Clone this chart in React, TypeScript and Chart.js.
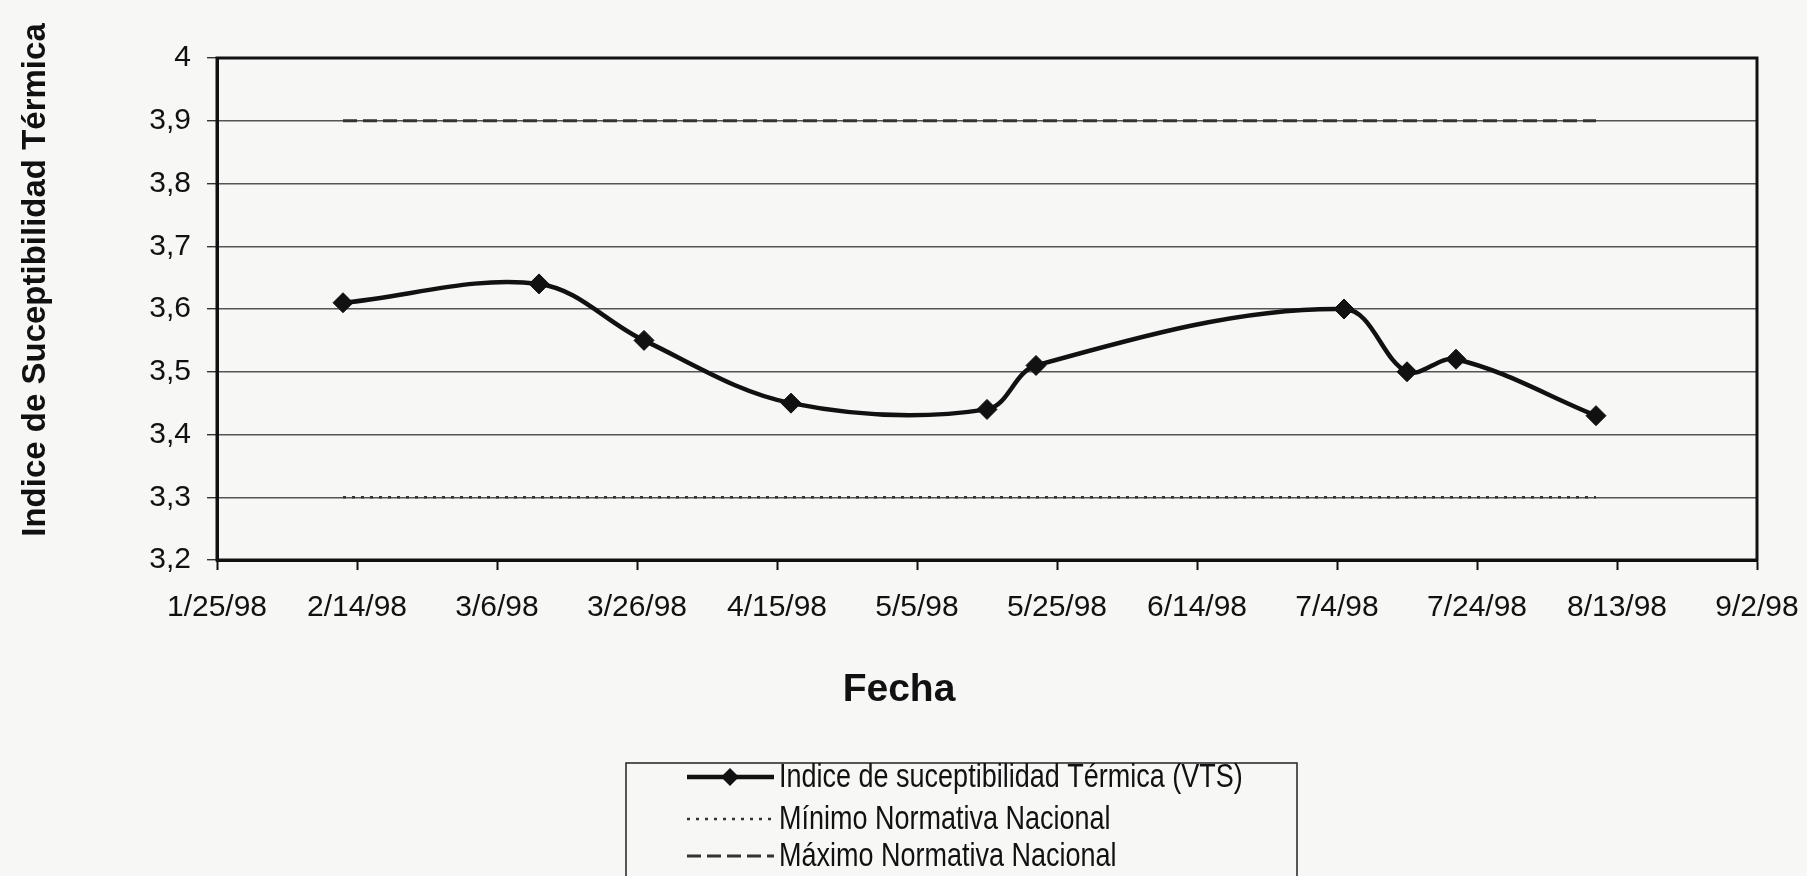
import { useEffect, useRef } from "react";
import { Chart, registerables } from "chart.js";

Chart.register(...registerables);

// ---- data ----
const sampleDates = ["2/12/98", "3/12/98", "3/27/98", "4/17/98", "5/15/98", "5/22/98", "7/5/98", "7/14/98", "7/21/98", "8/10/98"];
const vtsValues = [3.61, 3.64, 3.55, 3.45, 3.44, 3.51, 3.6, 3.5, 3.52, 3.43];
const minimoValues = [3.3, 3.3, 3.3, 3.3, 3.3, 3.3, 3.3, 3.3, 3.3, 3.3];
const maximoValues = [3.9, 3.9, 3.9, 3.9, 3.9, 3.9, 3.9, 3.9, 3.9, 3.9];
const xTickLabels = ["1/25/98", "2/14/98", "3/6/98", "3/26/98", "4/15/98", "5/5/98", "5/25/98", "6/14/98", "7/4/98", "7/24/98", "8/13/98", "9/2/98"];
const yTickLabels = ["3,2", "3,3", "3,4", "3,5", "3,6", "3,7", "3,8", "3,9", "4"];
const seriesLabels = ["Indice de suceptibilidad Térmica (VTS)", "Mínimo Normativa Nacional", "Máximo Normativa Nacional"];
const xAxisTitle = "Fecha";
const yAxisTitle = "Indice de Suceptibilidad Térmica";

const toDay = (s: string) => {
  const [m, d, y] = s.split("/").map(Number);
  return Date.UTC(1900 + y, m - 1, d) / 86400000;
};
const baseDay = toDay(xTickLabels[0]);
const dayOf = (s: string) => toDay(s) - baseDay;
const pts = (vals: number[]) => sampleDates.map((d, i) => ({ x: dayOf(d), y: vals[i] }));

const FONT = "'Liberation Sans', Arial, sans-serif";

const framePlugin = {
  id: "frame",
  beforeDraw(chart: any) {
    const { ctx } = chart;
    ctx.save();
    ctx.fillStyle = "#f7f7f6";
    ctx.fillRect(0, 0, chart.width, chart.height);
    ctx.restore();
  },
  afterDraw(chart: any) {
    const { ctx, chartArea: a } = chart;
    ctx.save();
    ctx.strokeStyle = "#111";
    ctx.lineWidth = 3;
    ctx.strokeRect(a.left, a.top, a.right - a.left, a.bottom - a.top);
    // axis titles
    ctx.fillStyle = "#111";
    ctx.textAlign = "center";
    ctx.textBaseline = "middle";
    ctx.font = `bold 39px ${FONT}`;
    ctx.fillText(xAxisTitle, 899, 690);
    ctx.font = `bold 33px ${FONT}`;
    ctx.translate(36, 280);
    ctx.rotate(-Math.PI / 2);
    ctx.fillText(yAxisTitle, 0, 0);
    ctx.restore();

    // legend box
    ctx.save();
    ctx.strokeStyle = "#222";
    ctx.lineWidth = 1.5;
    ctx.strokeRect(626, 763, 671, 140);
    const rows = [777, 819, 856];
    chart.data.datasets.forEach((ds: any, i: number) => {
      const y = rows[i];
      ctx.save();
      ctx.strokeStyle = ds.borderColor;
      ctx.lineWidth = ds.borderWidth;
      ctx.setLineDash(ds.borderDash || []);
      ctx.beginPath();
      ctx.moveTo(687, y);
      ctx.lineTo(774, y);
      ctx.stroke();
      ctx.setLineDash([]);
      if (ds.pointRadius > 0) {
        const r = ds.pointRadius - 1;
        ctx.fillStyle = ds.pointBackgroundColor;
        ctx.beginPath();
        ctx.moveTo(730 - r, y);
        ctx.lineTo(730, y - r);
        ctx.lineTo(730 + r, y);
        ctx.lineTo(730, y + r);
        ctx.closePath();
        ctx.fill();
      }
      ctx.restore();
      ctx.save();
      ctx.fillStyle = "#111";
      ctx.font = `27px ${FONT}`;
      ctx.textAlign = "left";
      ctx.textBaseline = "middle";
      ctx.translate(779, y + 1);
      ctx.scale(1, 1.2);
      ctx.fillText(ds.label, 0, 0);
      ctx.restore();
    });
    ctx.restore();
  },
};

export default function App() {
  const ref = useRef<HTMLCanvasElement>(null);
  useEffect(() => {
    document.body.style.margin = "0";
    document.body.style.background = "#f7f7f6";
    const chart = new Chart(ref.current!, {
      type: "line",
      data: {
        datasets: [
          {
            label: seriesLabels[0],
            data: pts(vtsValues),
            borderColor: "#111",
            borderWidth: 4.5,
            pointStyle: "rectRot",
            pointRadius: 10,
            pointBackgroundColor: "#111",
            pointBorderColor: "#111",
            pointBorderWidth: 1,
            tension: 0.35,
          },
          {
            label: seriesLabels[1],
            data: pts(minimoValues),
            borderColor: "#333",
            borderWidth: 2.5,
            borderDash: [3, 6],
            pointRadius: 0,
            tension: 0,
          },
          {
            label: seriesLabels[2],
            data: pts(maximoValues),
            borderColor: "#333",
            borderWidth: 3,
            borderDash: [14, 6],
            pointRadius: 0,
            tension: 0,
          },
        ],
      },
      options: {
        animation: false,
        responsive: false,
        devicePixelRatio: 1,
        layout: { padding: { top: 58, right: 50, left: 0, bottom: 0 } },
        plugins: { legend: { display: false }, tooltip: { enabled: false } },
        scales: {
          x: {
            type: "linear",
            min: 0,
            max: dayOf(xTickLabels[xTickLabels.length - 1]),
            afterFit: (s: any) => {
              s.height = 876 - 560;
              s.paddingLeft = 0;
              s.paddingRight = 0;
            },
            grid: { drawOnChartArea: false, drawTicks: true, tickLength: 10, tickColor: "#111", tickWidth: 2 },
            border: { display: true, color: "#111", width: 3 },
            ticks: {
              stepSize: 20,
              autoSkip: false,
              maxRotation: 0,
              padding: 20,
              color: "#111",
              font: { family: FONT, size: 30 },
              callback: (_v: any, i: number) => xTickLabels[i],
            },
          },
          y: {
            min: 3.2,
            max: 4,
            afterFit: (s: any) => {
              s.width = 217;
              s.paddingTop = 0;
              s.paddingBottom = 0;
            },
            grid: { color: "#555", lineWidth: 1.4, drawTicks: true, tickLength: 10, tickColor: "#333" },
            border: { display: true, color: "#111", width: 3 },
            ticks: {
              stepSize: 0.1,
              padding: 16,
              color: "#111",
              font: { family: FONT, size: 30 },
              callback: (_v: any, i: number) => yTickLabels[i],
            },
          },
        },
      },
      plugins: [framePlugin],
    } as any);
    return () => chart.destroy();
  }, []);
  return <canvas ref={ref} width={1807} height={876} style={{ display: "block" }} />;
}
